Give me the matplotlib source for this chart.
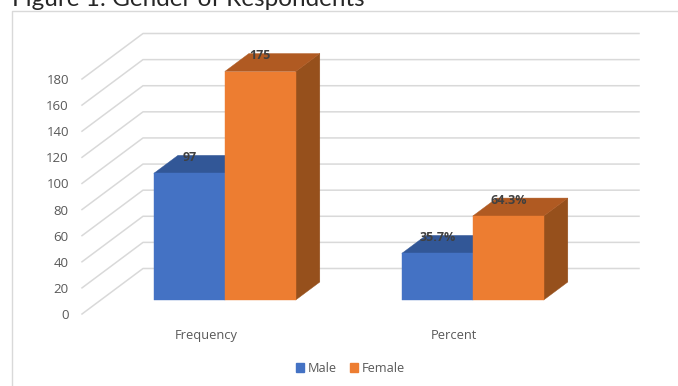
import matplotlib
matplotlib.use("Agg")
import matplotlib.pyplot as plt
from matplotlib.lines import Line2D
from matplotlib.patches import Patch, Polygon

categories = ["Frequency", "Percent"]
male = [97, 35.7]
female = [175, 64.3]
male_labels = ["97", "35.7%"]
female_labels = ["175", "64.3%"]
y_ticks = [0, 20, 40, 60, 80, 100, 120, 140, 160, 180]

W, H = 678, 386
GRID = "#d9d9d9"
TEXT = "#595959"

plt.rcParams["font.family"] = ["Open Sans", "DejaVu Sans"]

fig = plt.figure(figsize=(W / 100, H / 100), dpi=100)
ax = fig.add_axes([82 / W, (H - 314) / H, 496 / W, 235 / H])
ax.set_xlim(-0.5, 1.5)
ax.set_ylim(0, 180)

# fake 3d: one unit of depth shifts right and up by this much in data units
DEPTH_X = 61 / 248
DEPTH_Y = 45.5 / (235 / 180)
BAR_FRONT = 0.308
BAR_BACK = 0.703
BAR_WIDTH = 0.286


def project(x, v, d):
    return x + d * DEPTH_X, v + d * DEPTH_Y


def draw_bar(x0, value, front, top, side, zorder):
    x1 = x0 + BAR_WIDTH
    f = BAR_FRONT
    b = BAR_BACK
    faces = [
        ([(x1, 0, f), (x1, 0, b), (x1, value, b), (x1, value, f)], side),
        ([(x0, value, f), (x1, value, f), (x1, value, b), (x0, value, b)], top),
        ([(x0, 0, f), (x1, 0, f), (x1, value, f), (x0, value, f)], front),
    ]
    for pts, color in faces:
        ax.add_patch(Polygon([project(*p) for p in pts], closed=True, facecolor=color,
                             edgecolor=color, linewidth=0.3, clip_on=False, zorder=zorder))


# walls
for v in y_ticks:
    xs, ys = zip(project(-0.5, v, 0), project(-0.5, v, 1), project(1.5, v, 1))
    ax.plot(xs, ys, color=GRID, lw=1.1, clip_on=False, zorder=1)

for i in range(len(categories)):
    draw_bar(i - BAR_WIDTH, male[i], "#4472c4", "#325797", "#2c4d86", 2)
    draw_bar(i, female[i], "#ed7d31", "#b05a22", "#96501c", 3)

    x, y = project(i - BAR_WIDTH / 2, male[i], BAR_FRONT)
    ax.annotate(male_labels[i], (x, y), xytext=(0, 16), textcoords="offset pixels", ha="center",
                va="center", fontsize=9, fontweight="bold", color="#404040", zorder=5, annotation_clip=False)
    x, y = project(i + BAR_WIDTH / 2, female[i], BAR_FRONT)
    ax.annotate(female_labels[i], (x, y), xytext=(0, 16), textcoords="offset pixels", ha="center",
                va="center", fontsize=9, fontweight="bold", color="#404040", zorder=5, annotation_clip=False)

ax.set_xticks(range(len(categories)), categories)
ax.set_yticks(y_ticks)
ax.tick_params(axis="x", length=0, pad=10.5, labelsize=9.3, labelcolor=TEXT)
ax.tick_params(axis="y", length=0, pad=9.5, labelsize=9.5, labelcolor=TEXT)
ax.patch.set_visible(False)
for s in ax.spines.values():
    s.set_visible(False)

handles = [Patch(color="#4472c4", label="Male"), Patch(color="#ed7d31", label="Female")]
fig.legend(handles=handles, ncol=2, frameon=False, loc="center", bbox_to_anchor=(350.5 / W, (H - 368.5) / H),
           fontsize=9.2, labelcolor=TEXT, handlelength=0.62, handleheight=0.62, handletextpad=0.35,
           columnspacing=1.0)

# chart area border, runs off the right and bottom edges
fig.add_artist(Line2D([11.5 / W, 11.5 / W, 1], [0, (H - 10.5) / H, (H - 10.5) / H], color=GRID, lw=1))

fig.text(12 / W, (H - 5.5) / H, "Figure 1: Gender of Respondents", fontsize=17.5, color="#262626",
         family=["Lato", "DejaVu Sans"], ha="left", va="baseline")

fig.savefig("out.png", dpi=100)
